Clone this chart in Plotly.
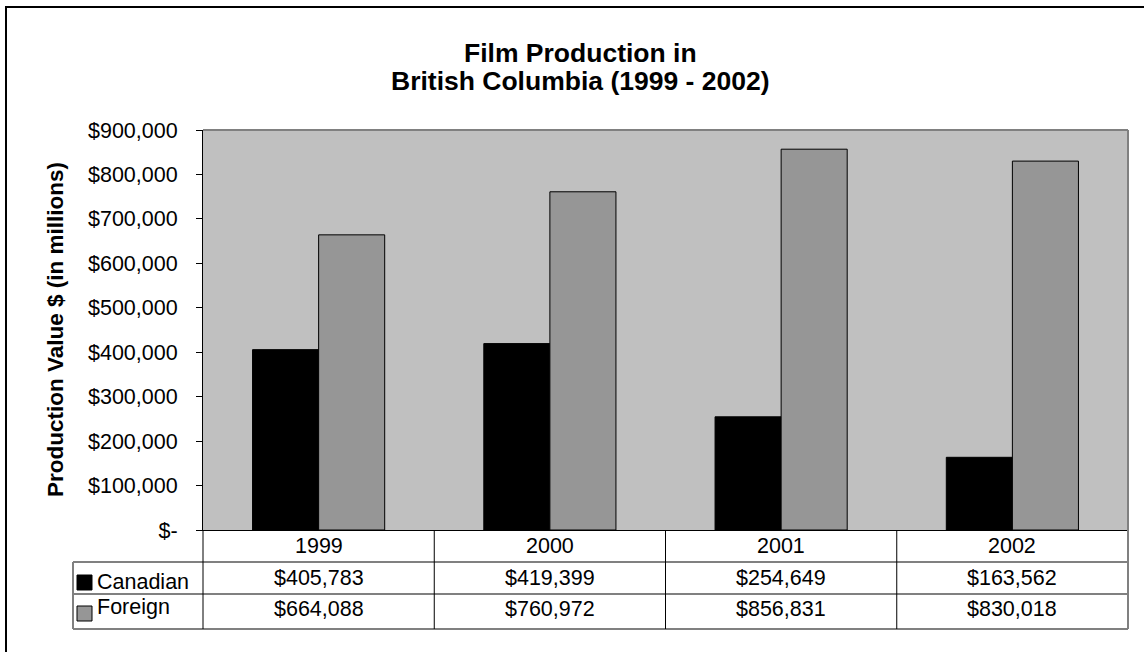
import plotly.graph_objects as go

# ---- data ----
years = ["1999", "2000", "2001", "2002"]
canadian = [405783, 419399, 254649, 163562]
foreign = [664088, 760972, 856831, 830018]
series_names = ["Canadian", "Foreign"]
y_tick_vals = [0, 100000, 200000, 300000, 400000, 500000, 600000, 700000, 800000, 900000]
y_tick_text = ["$-", "$100,000", "$200,000", "$300,000", "$400,000", "$500,000",
               "$600,000", "$700,000", "$800,000", "$900,000"]
title_lines = ["Film Production in", "British Columbia (1999 - 2002)"]
y_title = "Production Value $ (in millions)"

# ---- layout constants (pixels) ----
W, H = 1144, 652
L, R, T, B = 203, 1128, 130, 530
FONT = "Liberation Sans, Arial, sans-serif"
colors = ["#000000", "#969696"]


def px(x):
    return (x - L) / (R - L)


def py(y):
    return (B - y) / (B - T)


fig = go.Figure()
for name, vals, col in zip(series_names, [canadian, foreign], colors):
    fig.add_trace(go.Bar(x=years, y=vals, name=name, marker=dict(color=col, line=dict(color="#000000", width=1)),
                         hoverinfo="x+y"))

shapes = []
annotations = []

# outer chart border
shapes.append(dict(type="rect", xref="paper", yref="paper", x0=px(6), x1=px(1160), y0=py(670), y1=py(7),
                   line=dict(color="#000000", width=2), layer="above"))
# plot area top and right border
shapes.append(dict(type="line", xref="paper", yref="paper", x0=0, x1=1, y0=1, y1=1,
                   line=dict(color="#808080", width=2), layer="above"))
shapes.append(dict(type="line", xref="paper", yref="paper", x0=1, x1=1, y0=0, y1=1,
                   line=dict(color="#808080", width=2), layer="above"))

# data table
row_edges = [530, 562, 594, 629]
legend_left = 73
grid_gray = "#808080"
for yy in row_edges[1:]:
    shapes.append(dict(type="line", xref="paper", yref="paper", x0=px(legend_left), x1=1, y0=py(yy), y1=py(yy),
                       line=dict(color=grid_gray, width=2)))
shapes.append(dict(type="line", xref="paper", yref="paper", x0=px(legend_left), x1=px(legend_left),
                   y0=py(row_edges[1]), y1=py(row_edges[-1]), line=dict(color=grid_gray, width=2)))
shapes.append(dict(type="line", xref="paper", yref="paper", x0=0, x1=0,
                   y0=py(row_edges[0]), y1=py(row_edges[-1]), line=dict(color="#000000", width=1)))
shapes.append(dict(type="line", xref="paper", yref="paper", x0=1, x1=1,
                   y0=py(row_edges[0]), y1=py(row_edges[-1]), line=dict(color=grid_gray, width=2)))
for i in range(len(years) - 1):
    shapes.append(dict(type="line", xref="x", yref="paper", x0=i + 0.5, x1=i + 0.5,
                       y0=py(row_edges[0]), y1=py(row_edges[-1]), line=dict(color="#000000", width=1)))

text_y = [546, 578, 609]
cell_font = dict(family=FONT, size=21.5, color="#000000")
for i, yr in enumerate(years):
    annotations.append(dict(xref="x", yref="paper", x=i, y=py(text_y[0]), text=yr, showarrow=False,
                            xanchor="center", yanchor="middle", font=cell_font))
    for r, vals in enumerate([canadian, foreign]):
        annotations.append(dict(xref="x", yref="paper", x=i, y=py(text_y[r + 1]), text=f"${vals[i]:,}",
                                showarrow=False, xanchor="center", yanchor="middle", font=cell_font))

# legend keys in table
key_tops = [575, 606]
legend_text_y = [582, 607]
for r, (name, col) in enumerate(zip(series_names, colors)):
    shapes.append(dict(type="rect", xref="paper", yref="paper", x0=px(77), x1=px(92),
                       y0=py(key_tops[r] + 15), y1=py(key_tops[r]),
                       fillcolor=col, line=dict(color="#000000", width=1)))
    annotations.append(dict(xref="paper", yref="paper", x=px(95), y=py(legend_text_y[r]), text=name,
                            showarrow=False, xanchor="left", yanchor="middle", font=cell_font))

# title
title_y = [53, 81]
for t, yy in zip(title_lines, title_y):
    annotations.append(dict(xref="paper", yref="paper", x=px(580), y=py(yy), text=f"<b>{t}</b>",
                            showarrow=False, xanchor="center", yanchor="middle",
                            font=dict(family=FONT, size=26.5, color="#000000")))

# y axis title
annotations.append(dict(xref="paper", yref="paper", x=px(55), y=0.5, text=f"<b>{y_title}</b>",
                        textangle=-90, showarrow=False, xanchor="center", yanchor="middle",
                        font=dict(family=FONT, size=22.5, color="#000000")))

fig.update_layout(
    width=W, height=H,
    margin=dict(l=L, r=W - R, t=T, b=H - B, pad=0),
    paper_bgcolor="#FFFFFF",
    plot_bgcolor="#C0C0C0",
    barmode="group",
    bargap=1.5 / 3.5,
    bargroupgap=0,
    showlegend=False,
    shapes=shapes,
    annotations=annotations,
    font=dict(family=FONT, color="#000000"),
    xaxis=dict(type="category", range=[-0.5, 3.5], showticklabels=False, ticks="",
               showline=True, linecolor="#000000", linewidth=1, showgrid=False, zeroline=False,
               fixedrange=True),
    yaxis=dict(range=[0, 900000], tickvals=y_tick_vals, ticktext=y_tick_text,
               ticks="outside", ticklen=6, tickcolor="#000000", tickwidth=1,
               ticklabelstandoff=14,
               tickfont=dict(family=FONT, size=21.5, color="#000000"),
               showline=True, linecolor="#000000", linewidth=1, showgrid=False, zeroline=False,
               fixedrange=True),
)

fig.write_html("out.html", config={"displayModeBar": False},
               post_script="document.body.style.margin='0';")
